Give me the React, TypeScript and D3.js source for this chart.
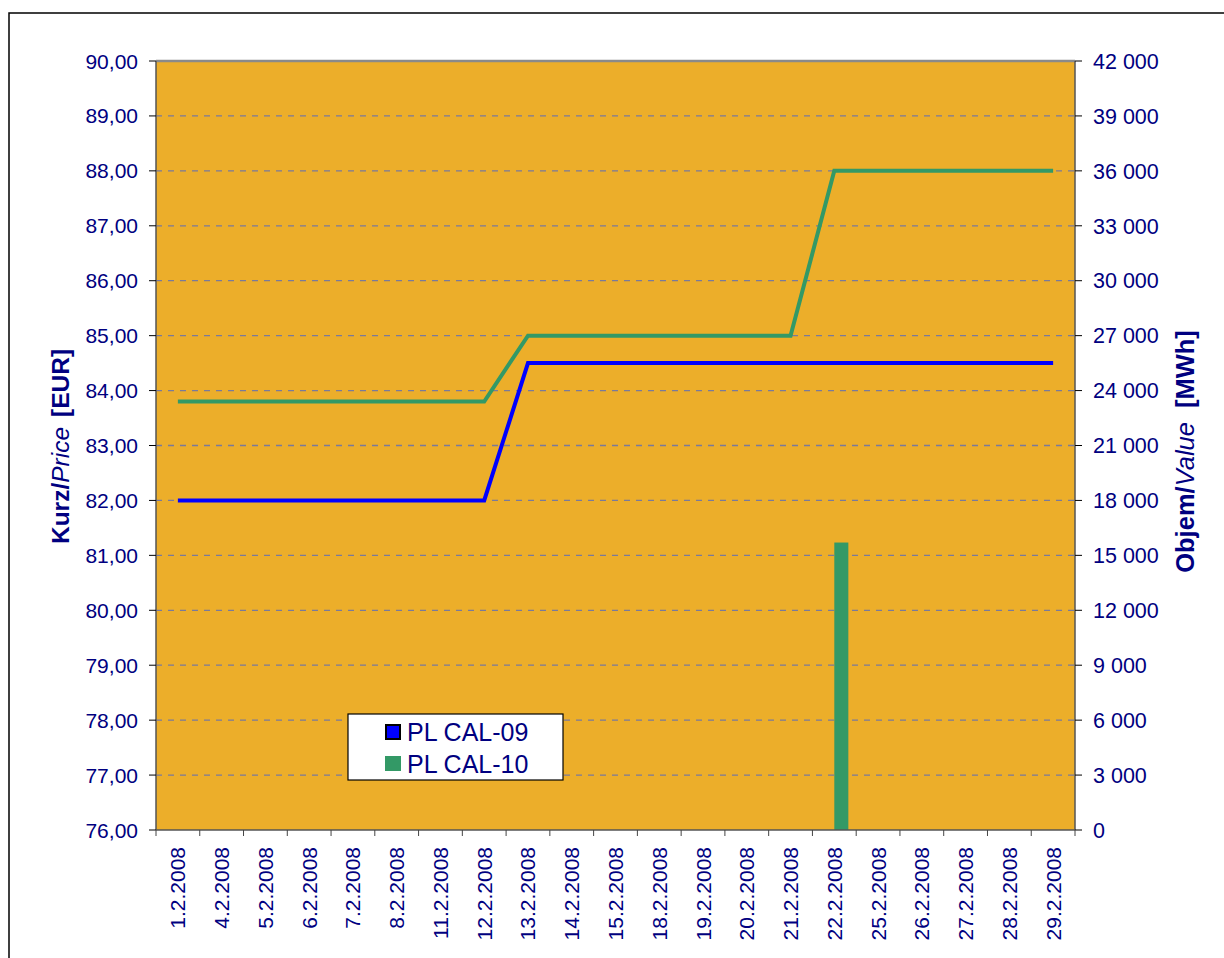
import React from "react";
import * as d3 from "d3";

const dates = ["1.2.2008","4.2.2008","5.2.2008","6.2.2008","7.2.2008","8.2.2008","11.2.2008","12.2.2008","13.2.2008","14.2.2008","15.2.2008","18.2.2008","19.2.2008","20.2.2008","21.2.2008","22.2.2008","25.2.2008","26.2.2008","27.2.2008","28.2.2008","29.2.2008"];
const priceCal09 = [82,82,82,82,82,82,82,82,84.5,84.5,84.5,84.5,84.5,84.5,84.5,84.5,84.5,84.5,84.5,84.5,84.5];
const priceCal10 = [83.8,83.8,83.8,83.8,83.8,83.8,83.8,83.8,85,85,85,85,85,85,85,88,88,88,88,88,88];
const volCal09 = [0,0,0,0,0,0,0,0,0,0,0,0,0,0,0,0,0,0,0,0,0];
const volCal10 = [0,0,0,0,0,0,0,0,0,0,0,0,0,0,0,15700,0,0,0,0,0];
const leftTicks = [76,77,78,79,80,81,82,83,84,85,86,87,88,89,90];
const rightTicks = [0,3000,6000,9000,12000,15000,18000,21000,24000,27000,30000,33000,36000,39000,42000];
const seriesNames = ["PL CAL-09","PL CAL-10"];

const W = 1224, H = 958;
const L = 156, R = 1075, T = 61, B = 830;
const TXT = "#000080";
const FONT = "'Liberation Sans', Arial, sans-serif";

export default function App() {
  const x = d3.scaleBand<string>().domain(dates).range([L, R]).paddingInner(0).paddingOuter(0);
  const yL = d3.scaleLinear().domain([76, 90]).range([B, T]);
  const yR = d3.scaleLinear().domain([0, 42000]).range([B, T]);
  const sub = d3.scaleBand<string>().domain(["a","b"]).range([0, x.bandwidth()]).paddingInner(0).paddingOuter(0.56);
  const cx = (d: string) => (x(d) as number) + x.bandwidth() / 2;
  const line = d3.line<number>().x((_, i) => cx(dates[i])).y((v) => yL(v));
  const fmtL = (v: number) => v.toFixed(2).replace(".", ",");
  const fmtR = (v: number) => v === 0 ? "0" : d3.format(",")(v).replace(/,/g, " ");

  return (
    <svg width={W} height={H} style={{ position: "absolute", left: 0, top: 0 }} fontFamily={FONT}>
      <rect x={0} y={0} width={W} height={H} fill="#fff" />
      <rect x={9} y={13} width={1400} height={1200} fill="#fff" stroke="#000" strokeWidth={1.5} />
      <rect x={L} y={T} width={R - L} height={B - T} fill="#ECAE2A" />
      {leftTicks.slice(1, -1).map((t) => (
        <line key={t} x1={L} x2={R} y1={yL(t)} y2={yL(t)} stroke="#7a7a9a" strokeWidth={1.3} strokeDasharray="6,6" />
      ))}
      {dates.map((d, i) => (
        <g key={d}>
          {volCal09[i] > 0 && (
            <rect x={(x(d) as number) + (sub("a") as number)} y={yR(volCal09[i])} width={sub.bandwidth()} height={B - yR(volCal09[i])} fill="#0000FF" />
          )}
          {volCal10[i] > 0 && (
            <rect x={(x(d) as number) + (sub("b") as number)} y={yR(volCal10[i])} width={sub.bandwidth()} height={B - yR(volCal10[i])} fill="#339966" />
          )}
        </g>
      ))}
      <line x1={L} x2={R} y1={T} y2={T} stroke="#8a8a8a" strokeWidth={2.5} />
      <line x1={L} x2={L} y1={T} y2={B} stroke="#555" strokeWidth={1.5} />
      <line x1={R} x2={R} y1={T} y2={B} stroke="#555" strokeWidth={1.5} />
      <line x1={L} x2={R} y1={B} y2={B} stroke="#555" strokeWidth={1.5} />
      <path d={line(priceCal10) || ""} fill="none" stroke="#339966" strokeWidth={4} strokeLinejoin="miter" />
      <path d={line(priceCal09) || ""} fill="none" stroke="#0000FF" strokeWidth={4} strokeLinejoin="miter" />
      {leftTicks.map((t) => (
        <g key={t}>
          <line x1={L - 7} x2={L} y1={yL(t)} y2={yL(t)} stroke="#000" strokeWidth={1} />
          <text x={138} y={yL(t)} dy="0.36em" textAnchor="end" fontSize={21} fill={TXT}>{fmtL(t)}</text>
        </g>
      ))}
      {rightTicks.map((t) => (
        <g key={t}>
          <line x1={R} x2={R + 7} y1={yR(t)} y2={yR(t)} stroke="#000" strokeWidth={1} />
          <text x={1093} y={yR(t)} dy="0.36em" textAnchor="start" fontSize={21.5} fill={TXT}>{fmtR(t)}</text>
        </g>
      ))}
      {dates.map((d) => (
        <line key={"t" + d} x1={x(d) as number} x2={x(d) as number} y1={B} y2={B + 6} stroke="#444" strokeWidth={1} />
      ))}
      <line x1={R} x2={R} y1={B} y2={B + 6} stroke="#444" strokeWidth={1} />
      {dates.map((d) => (
        <text key={"l" + d} transform={`translate(${cx(d) + 7.5},847) rotate(-90)`} textAnchor="end" fontSize={21} fill={TXT}>{d}</text>
      ))}
      <text transform={`translate(69,${(T + B) / 2 + 1}) rotate(-90)`} textAnchor="middle" fontSize={24.5} fill={TXT} fontWeight="bold">
        Kurz/<tspan fontStyle="italic" fontWeight="normal">Price</tspan><tspan dx={10}>[EUR]</tspan>
      </text>
      <text transform={`translate(1194,${(T + B) / 2 + 6}) rotate(-90)`} textAnchor="middle" fontSize={25.5} fill={TXT} fontWeight="bold">
        Objem/<tspan fontStyle="italic" fontWeight="normal">Value</tspan><tspan dx={14}>[MWh]</tspan>
      </text>
      <rect x={348} y={714} width={215} height={66} fill="#fff" stroke="#000" strokeWidth={1.2} />
      <rect x={386} y={725} width={14} height={14} fill="#0000FF" stroke="#000" strokeWidth={2} />
      <text x={407} y={732} dy="0.36em" fontSize={25} fill={TXT}>{seriesNames[0]}</text>
      <rect x={385} y={756} width={16} height={15} fill="#339966" />
      <text x={407} y={764} dy="0.36em" fontSize={25} fill={TXT}>{seriesNames[1]}</text>
    </svg>
  );
}
